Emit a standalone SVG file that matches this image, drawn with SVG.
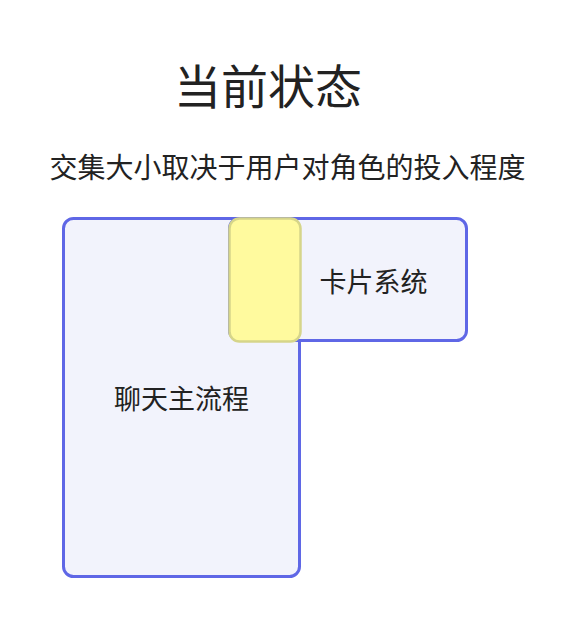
<svg xmlns="http://www.w3.org/2000/svg" width="572" height="626" viewBox="0 0 572 626">
<style>
.box{fill:#f2f3fc;stroke:#5f67e6;stroke-width:3}
.ov{fill:#fffa9e;stroke:#d6d58a;stroke-width:2.5}
.t{font-family:"Noto Sans CJK SC","Noto Sans",sans-serif;fill:#222;text-anchor:middle}
</style>
<rect width="572" height="626" fill="#ffffff"/>
<text class="t" x="268" y="104" font-size="47">当前状态</text>
<text class="t" x="287.5" y="178" font-size="28">交集大小取决于用户对角色的投入程度</text>
<g id="chat">
<rect class="box" x="63.5" y="218.5" width="236" height="358" rx="10"/>
<text class="t" x="181.5" y="409" font-size="27">聊天主流程</text>
</g>
<g id="card">
<rect class="box" x="229.5" y="218.5" width="237" height="122" rx="10"/>
<text class="t" x="373.5" y="292" font-size="27">卡片系统</text>
</g>
<g id="intersection">
<rect class="ov" x="229.5" y="218.5" width="71" height="123" rx="10"/>
</g>
<g id="connectors"></g>
</svg>
